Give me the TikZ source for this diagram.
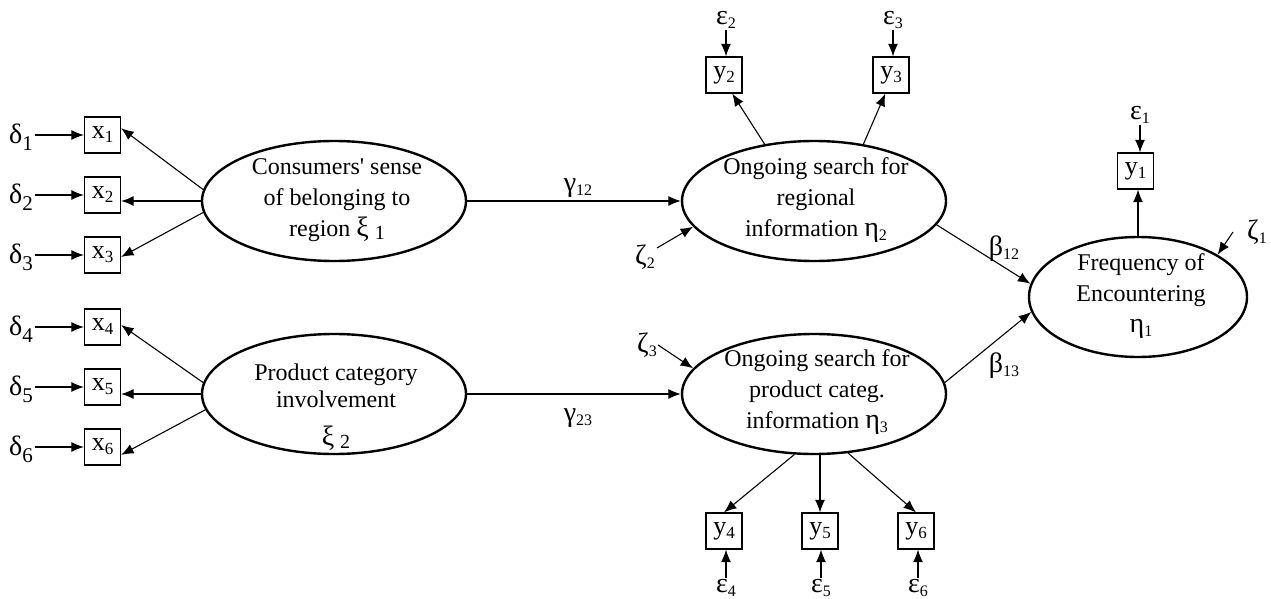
\documentclass[tikz,border=0pt]{standalone}
\usepackage{fontspec}
\setmainfont{Liberation Serif}[Ligatures=TeXOff]
\usetikzlibrary{arrows.meta,shapes.geometric}
% index helpers: small lowered index, large lowered index, larger Greek letter
\newcommand{\lowix}[1]{\raisebox{-4pt}{\fontsize{16}{16}\selectfont #1}}
\newcommand{\boxix}[1]{\raisebox{-4pt}{\fontsize{17}{17}\selectfont #1}}
\newcommand{\dix}[1]{\raisebox{-7pt}{\fontsize{21}{21}\selectfont #1}}
\newcommand{\bigix}[1]{\raisebox{-3pt}{\fontsize{20}{20}\selectfont #1}}
\newcommand{\gk}[1]{{\fontsize{28}{28}\selectfont #1}}

\begin{document}
\begin{tikzpicture}[x=1pt,y=-1pt,
  font=\fontsize{24}{31}\selectfont,
  latent/.style={ellipse, draw, line width=2.4pt, minimum width=264pt, minimum height=120pt, inner sep=0pt},
  obs/.style={draw, line width=1.2pt, minimum width=36pt, minimum height=36pt, inner sep=0pt,
    font=\fontsize{26}{26}\selectfont},
  lbl/.style={inner sep=1.5pt},
  caption/.style={align=center, inner sep=0pt},
  link/.style={-{Latex[length=12.5pt,width=10pt]}, line width=1.1pt},
]
\useasboundingbox (0,0) rectangle (1271,599);

% latent variables
\node[latent] (xi1) at (334,201) {};
\node[latent] (xi2) at (334,394) {};
\node[latent] (eta2) at (814,201) {};
\node[latent] (eta3) at (814,394) {};
\node[latent, minimum width=218pt] (eta1) at (1138,297) {};

\node[caption] (xi1t) at (337,200) {Consumers' sense\\of belonging to\\region \gk{ξ} \bigix{1}};
\node[caption] (xi2t) at (336,407) {Product category\\[-4pt]involvement\\[7pt]\gk{ξ} \bigix{2}};
\node[caption] (eta2t) at (816,200) {Ongoing search for\\regional\\information \gk{η}\lowix{2}};
\node[caption] (eta3t) at (817,392) {Ongoing search for\\product categ.\\information \gk{η}\lowix{3}};
\node[caption] (eta1t) at (1141,296) {Frequency of\\Encountering\\\gk{η}\lowix{1}};

% indicators
\node[obs] (x1) at (102.5,135) {x\boxix{1}};
\node[obs] (x2) at (102.5,195) {x\boxix{2}};
\node[obs] (x3) at (102.5,255) {x\boxix{3}};
\node[obs] (x4) at (102.5,327) {x\boxix{4}};
\node[obs] (x5) at (102.5,387) {x\boxix{5}};
\node[obs] (x6) at (102.5,447) {x\boxix{6}};
\node[obs] (y2) at (724,75) {y\boxix{2}};
\node[obs] (y3) at (891,75) {y\boxix{3}};
\node[obs] (y1) at (1135.5,171) {y\boxix{1}};
\node[obs] (y4) at (724,531) {y\boxix{4}};
\node[obs] (y5) at (820,531) {y\boxix{5}};
\node[obs] (y6) at (916,531) {y\boxix{6}};

% error terms
\node[lbl] (d1) at (21,137) {\gk{δ}\dix{1}};
\node[lbl] (d2) at (21,197) {\gk{δ}\dix{2}};
\node[lbl] (d3) at (21,257) {\gk{δ}\dix{3}};
\node[lbl] (d4) at (21,329) {\gk{δ}\dix{4}};
\node[lbl] (d5) at (21,389) {\gk{δ}\dix{5}};
\node[lbl] (d6) at (21,449) {\gk{δ}\dix{6}};
\node[lbl] (e2) at (726,20) {\gk{ε}\lowix{2}};
\node[lbl] (e3) at (893,20) {\gk{ε}\lowix{3}};
\node[lbl] (e1) at (1140,115) {\gk{ε}\lowix{1}};
\node[lbl] (e4) at (726,588) {\gk{ε}\lowix{4}};
\node[lbl] (e5) at (821,588) {\gk{ε}\lowix{5}};
\node[lbl] (e6) at (918,588) {\gk{ε}\lowix{6}};
\node[lbl] (z2) at (645,257) {\gk{ζ}\lowix{2}};
\node[lbl] (z3) at (647,345) {\gk{ζ}\lowix{3}};
\node[lbl] (z1) at (1257,232) {\gk{ζ}\lowix{1}};
\coordinate (z2s) at (657,248);
\coordinate (z3s) at (658,345);
\coordinate (z1s) at (1233,232);

% path coefficients
\node[lbl] (g12) at (578,188) {\gk{γ}\lowix{12}};
\node[lbl] (g23) at (578,418) {\gk{γ}\lowix{23}};
\node[lbl] (b12) at (1004,249) {\gk{β}\lowix{12}};
\node[lbl] (b13) at (1004,366) {\gk{β}\lowix{13}};

% measurement paths
\draw[link] (xi1.175) -- (x1.20);
\draw[link] (xi1.west) -- (xi1.west -| x2.east);
\draw[link] (xi1.185) -- (x3.-6);
\draw[link] (xi2.175) -- (x4.6);
\draw[link] (xi2.west) -- (xi2.west -| x5.east);
\draw[link] (xi2.187) -- (x6.-23);
\draw[link] (eta2.131) -- (y2.-66);
\draw[link] (eta2.49) -- (y3.-107);
\draw[link] (eta1.north) -- (eta1.north |- y1.south);
\draw[link] (eta3.-108) -- (y4.north);
\draw[link] (y5.north |- eta3.south) -- (y5.north);
\draw[link] (eta3.-60) -- (y6.north);

% error arrows
\foreach \d/\x in {d1/x1,d2/x2,d3/x3,d4/x4,d5/x5,d6/x6}
  \draw[link] (\d.east |- \x.west) -- (\x.west);
\foreach \e/\y in {e2/y2,e3/y3,e1/y1}
  \draw[link] (\e.south) -- (\e.south |- \y.north);
\foreach \e/\y in {e4/y4,e5/y5,e6/y6}
  \draw[link] (\e.north) -- (\e.north |- \y.south);
\draw[link] (z2s) -- (eta2.192);
\draw[link] (z3s) -- (eta3.168);
\draw[link] (z1s) -- (eta1.28);

% structural paths
\draw[link] (xi1.east) -- (eta2.west);
\draw[link] (xi2.east) -- (eta3.west);
\draw[link] (eta2.-11) -- (eta1.173);
\draw[link] (eta3.5) -- (eta1.188);
\end{tikzpicture}
\end{document}
